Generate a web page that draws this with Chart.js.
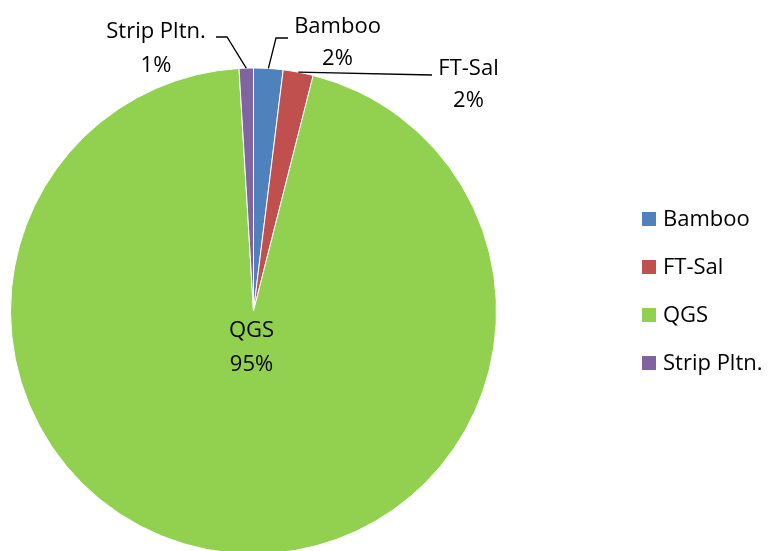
<!DOCTYPE html>
<html><head><meta charset="utf-8">
<script src="https://cdn.jsdelivr.net/npm/chart.js@4"></script>
<style>html,body{margin:0;padding:0;background:#fff;overflow:hidden}#wrap{position:relative;width:770px;height:560px}</style>
</head><body><div id="wrap"><canvas id="c"></canvas></div>
<script>
const categories = ['Bamboo', 'FT-Sal', 'QGS', 'Strip Pltn.'];
const shares = [1.95, 2.0, 95.1, 0.95];
const sliceColors = ['#4F81BD', '#C0504D', '#92D050', '#8064A2'];

const FONT = '22px "Open Sans"';
// label placement (leader-line path after the slice edge point, text centre x, text baselines)
const labelLayout = [
  {path: [[276, 38], [288, 38]], x: 337.5, y: [32.5, 64.5]},
  {path: [[432, 75]], x: 468.5, y: [75, 107]},
  {path: null, x: 251.5, y: [337, 371]},
  {path: [[227, 37], [216, 37]], x: 156, y: [38, 71.5]}
];

const labelPlugin = {
  id: 'pieLabels',
  afterDatasetsDraw(chart) {
    const ctx = chart.ctx;
    const meta = chart.getDatasetMeta(0);
    const data = chart.data.datasets[0].data;
    const total = data.reduce((a, b) => a + b, 0);
    ctx.save();
    ctx.font = FONT;
    ctx.fillStyle = '#000';
    ctx.strokeStyle = '#000';
    ctx.lineWidth = 1.3;
    ctx.textAlign = 'center';
    ctx.textBaseline = 'alphabetic';
    meta.data.forEach((arc, i) => {
      const p = arc.getProps(['x', 'y', 'startAngle', 'endAngle', 'outerRadius'], true);
      const mid = (p.startAngle + p.endAngle) / 2;
      const ex = p.x + Math.cos(mid) * p.outerRadius;
      const ey = p.y + Math.sin(mid) * p.outerRadius;
      const L = labelLayout[i];
      if (L.path) {
        ctx.beginPath();
        ctx.moveTo(ex, ey);
        L.path.forEach(pt => ctx.lineTo(pt[0], pt[1]));
        ctx.stroke();
      }
      const pct = Math.round(data[i] / total * 100) + '%';
      ctx.fillText(chart.data.labels[i], L.x, L.y[0]);
      ctx.fillText(pct, L.x, L.y[1]);
    });
    ctx.restore();
  }
};

const legendPlugin = {
  id: 'sideLegend',
  afterDraw(chart) {
    const ctx = chart.ctx;
    const ds = chart.data.datasets[0];
    ctx.save();
    ctx.font = FONT;
    ctx.textAlign = 'left';
    ctx.textBaseline = 'alphabetic';
    chart.data.labels.forEach((lab, i) => {
      const base = 226 + i * 48;
      ctx.fillStyle = ds.backgroundColor[i];
      ctx.fillRect(642, base - 14, 14, 14);
      ctx.fillStyle = '#000';
      ctx.fillText(lab, 663, base);
    });
    ctx.restore();
  }
};

new Chart(document.getElementById('c'), {
  type: 'pie',
  data: {
    labels: categories,
    datasets: [{
      data: shares,
      backgroundColor: sliceColors,
      borderColor: '#ffffff',
      borderWidth: 1
    }]
  },
  options: {
    responsive: true,
    maintainAspectRatio: false,
    animation: false,
    layout: {padding: {left: 10, right: 273, top: 67.5, bottom: 5.5}},
    plugins: {legend: {display: false}, tooltip: {enabled: false}}
  },
  plugins: [labelPlugin, legendPlugin]
});
</script>
</body></html>
